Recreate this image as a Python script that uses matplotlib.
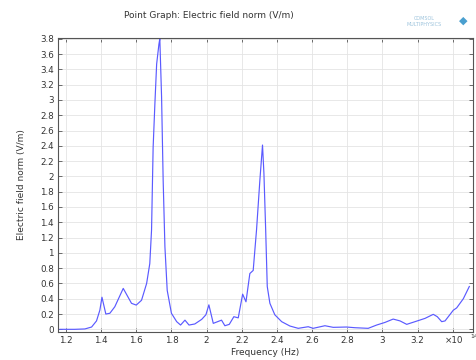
import numpy as np
import matplotlib
matplotlib.use("Agg")
import matplotlib.pyplot as plt

# frequency in units of 1e14 Hz, field norm in V/m
freq = [1.166, 1.25, 1.308, 1.346, 1.374, 1.393, 1.405, 1.427, 1.45, 1.478,
        1.526, 1.573, 1.60, 1.63, 1.659, 1.677, 1.687, 1.696, 1.706, 1.716,
        1.729, 1.734, 1.744, 1.753, 1.763, 1.776, 1.80, 1.83, 1.852, 1.877,
        1.90, 1.933, 1.972, 1.996, 2.013, 2.038, 2.085, 2.104, 2.129, 2.155,
        2.18, 2.205, 2.224, 2.246, 2.265, 2.284, 2.303, 2.318, 2.326, 2.336,
        2.345, 2.36, 2.388, 2.427, 2.474, 2.521, 2.578, 2.606, 2.673, 2.72,
        2.796, 2.844, 2.919, 2.967, 3.014, 3.061, 3.10, 3.138, 3.185, 3.242,
        3.289, 3.312, 3.337, 3.356, 3.403, 3.422, 3.46, 3.494]
enorm = [0.0, 0.0, 0.005, 0.03, 0.11, 0.25, 0.42, 0.2, 0.21, 0.295,
         0.535, 0.34, 0.317, 0.38, 0.60, 0.86, 1.30, 2.38, 2.95, 3.47,
         3.73, 3.80, 3.04, 1.95, 1.08, 0.51, 0.21, 0.10, 0.056, 0.12,
         0.056, 0.07, 0.13, 0.19, 0.32, 0.078, 0.12, 0.047, 0.065, 0.165,
         0.15, 0.46, 0.36, 0.73, 0.77, 1.30, 1.95, 2.41, 2.04, 1.30,
         0.56, 0.34, 0.19, 0.10, 0.043, 0.013, 0.034, 0.013, 0.047, 0.026,
         0.03, 0.021, 0.013, 0.056, 0.09, 0.134, 0.11, 0.065, 0.10, 0.143,
         0.196, 0.165, 0.10, 0.11, 0.25, 0.28, 0.40, 0.56]

xticks = [1.2, 1.4, 1.6, 1.8, 2.0, 2.2, 2.4, 2.6, 2.8, 3.0, 3.2, 3.4]
xlabels = ["1.2", "1.4", "1.6", "1.8", "2", "2.2", "2.4", "2.6", "2.8", "3",
           "3.2", ""]
yticks = np.round(np.arange(0, 3.81, 0.2), 1)

txt = "#333333"
fig = plt.figure(figsize=(4.77, 3.6), dpi=100)
ax = fig.add_axes([58/477, 1 - 332/360, (473 - 58)/477, (332 - 38)/360])

ax.plot(freq, enorm, color="#5a5aff", lw=0.85)

ax.set_xlim(1.155, 3.515)
ax.set_ylim(-0.035, 3.81)
ax.set_xticks(xticks)
ax.set_xticklabels(xlabels)
ax.set_yticks(yticks)
ax.set_yticklabels(["%g" % v for v in yticks])
ax.grid(True, color="#e4e4e4", lw=0.6)
ax.tick_params(direction="in", length=3, width=0.6, labelsize=6.3,
               colors="#555555", labelcolor=txt, top=True, right=True, pad=3)
for s in ax.spines.values():
    s.set_color("#555555")
    s.set_linewidth(0.8)

# scale factor sits in the tick-label row, as in the original
ax.text(0.955, -0.012, "×10", transform=ax.transAxes,
        ha="center", va="top", fontsize=6.3, color=txt)
fig.text(474/477, 1 - 336/360, "14", ha="center", va="center",
         fontsize=4.5, color=txt)

ax.set_xlabel("Frequency (Hz)", fontsize=6.5, color=txt, labelpad=2)
ax.set_ylabel("Electric field norm (V/m)", fontsize=6.5, color=txt, labelpad=10)

fig.text(209/477, 1 - 16/360, "Point Graph: Electric field norm (V/m)",
         ha="center", va="center", fontsize=6.5, color=txt)
fig.text(424/477, 1 - 18/360, "COMSOL", ha="center", va="center",
         fontsize=3.5, color="#9cc3dc")
fig.text(424/477, 1 - 24/360, "MULTIPHYSICS", ha="center", va="center",
         fontsize=3.5, color="#9cc3dc")
fig.text(463/477, 1 - 21/360, "◆", ha="center", va="center",
         fontsize=8, color="#4a9fcf")

fig.savefig("out.png", dpi=100)
